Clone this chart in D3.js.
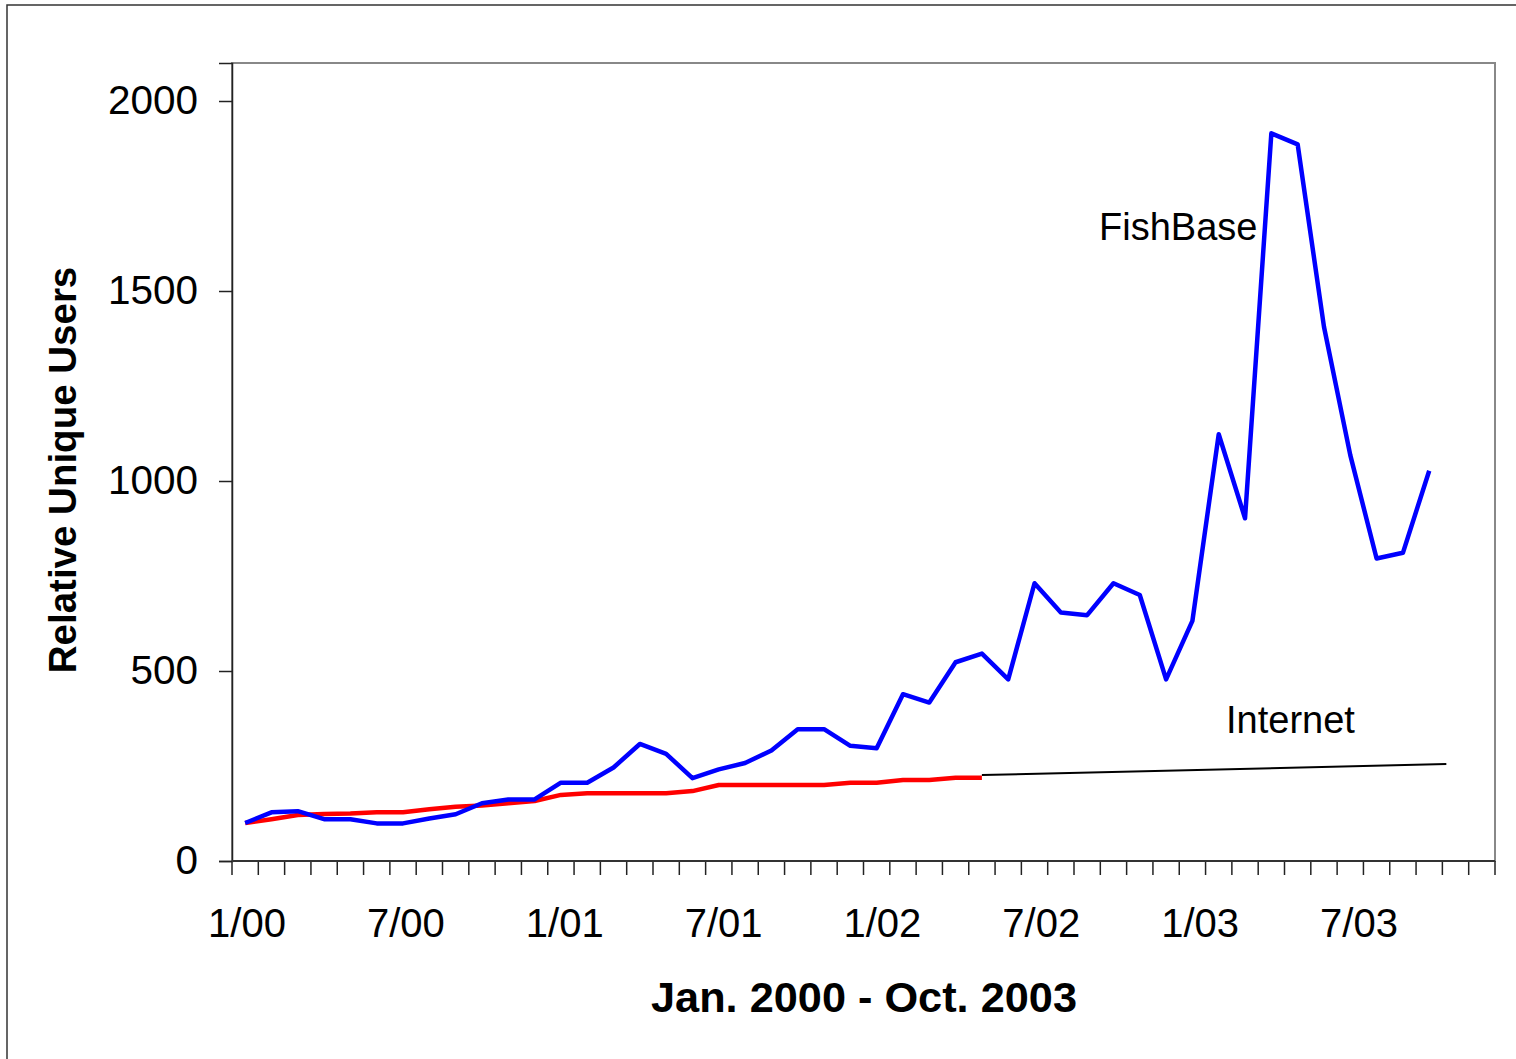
<!DOCTYPE html>
<html>
<head>
<meta charset="utf-8">
<script src="https://cdn.jsdelivr.net/npm/d3@7"></script>
<style>
  html, body { margin: 0; padding: 0; background: #fff; }
  svg { display: block; font-family: "Liberation Sans", Arial, sans-serif; }
</style>
</head>
<body>
<svg id="chart" width="1516" height="1059"></svg>
<script>
// ---- data ----
const months = [
  "1/00","2/00","3/00","4/00","5/00","6/00","7/00","8/00","9/00","10/00","11/00","12/00",
  "1/01","2/01","3/01","4/01","5/01","6/01","7/01","8/01","9/01","10/01","11/01","12/01",
  "1/02","2/02","3/02","4/02","5/02","6/02","7/02","8/02","9/02","10/02","11/02","12/02",
  "1/03","2/03","3/03","4/03","5/03","6/03","7/03","8/03","9/03","10/03","11/03","12/03"
];
const tickLabels = ["1/00","7/00","1/01","7/01","1/02","7/02","1/03","7/03"];
const yTicks = [0, 500, 1000, 1500, 2000];

// FishBase relative unique users, Jan 2000 - Oct 2003
const fishbase = [100, 128, 131, 110, 110, 99, 99, 112, 123, 152, 162, 162,
                  206, 206, 246, 308, 282, 218, 241, 258, 291, 347, 347, 303,
                  297, 439, 417, 523, 546, 478, 731, 654, 647, 731, 700, 478,
                  632, 1123, 902, 1915, 1886, 1406, 1068, 796, 811, 1027];
// Internet relative unique users, Jan 2000 - May 2002
const internet = [100, 110, 121, 124, 125, 128, 128, 136, 143, 146, 152, 158,
                  174, 178, 178, 178, 178, 184, 200, 200, 200, 200, 200, 206,
                  206, 213, 213, 219, 219];
// Internet trend extension: month index (0 = Jan 2000) and value at each end
const trendIndex = [28, 45.65];
const trendValues = [226, 255];

// ---- layout ----
const svg = d3.select("#chart");
const L = 232, R = 1495, T = 63, B = 861;

const x = d3.scaleBand().domain(months).range([L, R]).paddingInner(0).paddingOuter(0);
const cx = m => x(m) + x.bandwidth() / 2;
const xi = d3.scaleLinear().domain([0, months.length]).range([L, R]);
const xLabel = d3.scaleBand().domain(months).range([233.8, 1504.6]);
const y = d3.scaleLinear().domain([0, 2100]).range([B, T]);

// outer frame
svg.append("rect").attr("x", 7).attr("y", 5).attr("width", 1530).attr("height", 1080)
  .attr("fill", "none").attr("stroke", "#333").attr("stroke-width", 1.5);

// plot frame (top/right gray)
svg.append("rect").attr("x", L).attr("y", T).attr("width", R - L).attr("height", B - T)
  .attr("fill", "none").attr("stroke", "#888").attr("stroke-width", 2);

// y axis
const yAxis = d3.axisLeft(y).tickValues(yTicks).tickSize(13).tickPadding(21).tickFormat(d3.format("d"));
const gy = svg.append("g").attr("transform", `translate(${L},0)`).call(yAxis);
gy.select(".domain").attr("stroke", "#222").attr("stroke-width", 1.5);
gy.selectAll(".tick line").attr("stroke", "#222").attr("stroke-width", 1.5);
gy.selectAll(".tick text").attr("font-size", 40.5).attr("font-family", "Liberation Sans, Arial, sans-serif").attr("fill", "#000");

// x axis: ticks at month boundaries
const boundaries = months.map(m => x(m)).concat([R]);
svg.append("g").selectAll("line").data(boundaries).join("line")
  .attr("x1", d => d).attr("x2", d => d).attr("y1", B).attr("y2", B + 14)
  .attr("stroke", "#222").attr("stroke-width", 1.5);
svg.append("line").attr("x1", L).attr("x2", R).attr("y1", B).attr("y2", B)
  .attr("stroke", "#333").attr("stroke-width", 2);

svg.append("g").selectAll("text").data(tickLabels).join("text")
  .attr("x", d => xLabel(d) + xLabel.bandwidth() / 2).attr("y", 937)
  .attr("text-anchor", "middle").attr("font-size", 40).attr("fill", "#000")
  .text(d => d);

// lines
const line = d3.line().x(d => cx(d[0])).y(d => y(d[1]));
svg.append("path")
  .datum(trendIndex.map((t, i) => [t, trendValues[i]]))
  .attr("d", d3.line().x(d => xi(d[0] + 0.5)).y(d => y(d[1])))
  .attr("fill", "none").attr("stroke", "#000").attr("stroke-width", 2);
svg.append("path")
  .datum(internet.map((v, i) => [months[i], v]))
  .attr("d", line).attr("fill", "none").attr("stroke", "#ff0000").attr("stroke-width", 4.5)
  .attr("stroke-linejoin", "round");
svg.append("path")
  .datum(fishbase.map((v, i) => [months[i], v]))
  .attr("d", line).attr("fill", "none").attr("stroke", "#0000ff").attr("stroke-width", 4.5)
  .attr("stroke-linejoin", "round");

// annotations
svg.append("text").attr("x", 1099).attr("y", 240).attr("font-size", 38).attr("fill", "#000").text("FishBase");
svg.append("text").attr("x", 1226).attr("y", 733).attr("font-size", 38).attr("fill", "#000").text("Internet");

// axis titles
svg.append("text").attr("transform", "translate(76,470) rotate(-90)")
  .attr("text-anchor", "middle").attr("font-size", 38.5).attr("font-weight", "bold").attr("fill", "#000")
  .text("Relative Unique Users");
svg.append("text").attr("x", 864).attr("y", 1012)
  .attr("text-anchor", "middle").attr("font-size", 43.3).attr("font-weight", "bold").attr("fill", "#000")
  .text("Jan. 2000 - Oct. 2003");
</script>
</body>
</html>
